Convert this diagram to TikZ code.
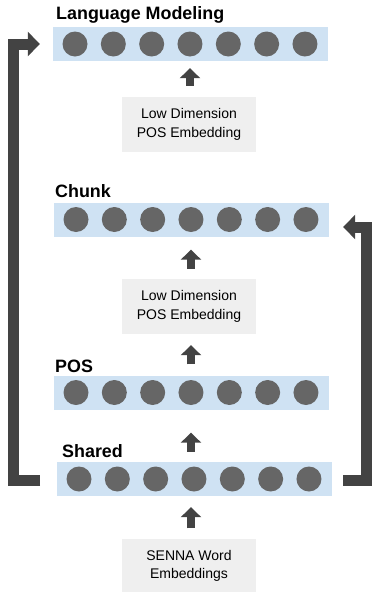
\documentclass[tikz,border=0pt]{standalone}
\usepackage{fontspec}
\setmainfont{Liberation Sans}
\usetikzlibrary{arrows.meta}
\definecolor{barblue}{HTML}{CFE2F3}
\definecolor{dot}{HTML}{666666}
\definecolor{arr}{HTML}{434343}
\definecolor{boxgray}{HTML}{EFEFEF}
\tikzset{
  layerbar/.style={rectangle, fill=barblue, minimum width=275pt, minimum height=34pt, inner sep=0pt},
  unit/.style={circle, fill=dot, minimum size=25pt, inner sep=0pt},
  embbox/.style={rectangle, fill=boxgray, minimum width=134pt, minimum height=55pt, inner sep=0pt, align=center, font=\fontsize{14}{18.3}\selectfont},
  layertitle/.style={anchor=base west, inner sep=0pt, font=\fontsize{17.9}{20}\selectfont\bfseries},
  uparrow/.style={draw=arr, line width=8pt, -{Triangle[width=20pt,length=10pt]}},
  loop/.style={draw=arr, line width=11pt, line join=miter, -{Triangle[width=24pt,length=12pt]}}
}
\begin{document}
\begin{tikzpicture}[x=1pt,y=-1pt]
\useasboundingbox (0,0) rectangle (372,592);
% layers
\node[layerbar] (lm) at (190.5,44) {};
\node[layerbar] (chunk) at (191.5,219.5) {};
\node[layerbar] (pos) at (191.5,392.5) {};
\node[layerbar] (shared) at (194.5,479) {};
\foreach \L/\x/\y in {lm/75/44, chunk/76/219.5, pos/76/392.5, shared/79/479}{
  \foreach \i in {1,...,7}{
    \pgfmathsetmacro{\cx}{\x+38.33*(\i-1)}
    \node[unit] (\L\i) at (\cx,\y) {};
  }
}
% titles
\node[layertitle] (tlm) at (56,19) {Language Modeling};
\node[layertitle] (tchunk) at (55,197) {Chunk};
\node[layertitle] (tpos) at (55,372) {POS};
\node[layertitle] (tshared) at (62,457) {Shared};
% boxes
\node[embbox] (emb1) at (189,124.5) {Low Dimension\\POS Embedding};
\node[embbox] (emb2) at (189,306.5) {Low Dimension\\POS Embedding};
\node[embbox] (senna) at (189,566) {SENNA Word\\Embeddings};
% up arrows
\draw[uparrow, shorten <=11pt, shorten >=7pt] (emb1.north -| lm4) -- (lm4 |- lm.south);
\draw[uparrow, shorten <=10pt, shorten >=13pt] (emb2.north -| chunk4) -- (chunk4 |- chunk.south);
\draw[uparrow, shorten <=11pt, shorten >=11pt] (pos4 |- pos.north) -- (pos4 |- emb2.south);
\draw[uparrow, shorten <=10pt, shorten >=23pt] (pos4 |- shared.north) -- (pos4 |- pos.south);
\draw[uparrow, shorten <=10pt, shorten >=11pt] (senna.north -| pos4) -- (pos4 |- shared.south);
% loops
\coordinate (lstart) at (40,480);
\coordinate (rstart) at (343,480);
\draw[loop, shorten >=13pt] (lstart) -- (13,480) -- (13,44) -- (lm.west);
\draw[loop, shorten >=14pt] (rstart) -- (366.5,480) -- (366.5,227) -- (chunk.east |- 0,227);
\end{tikzpicture}
\end{document}
